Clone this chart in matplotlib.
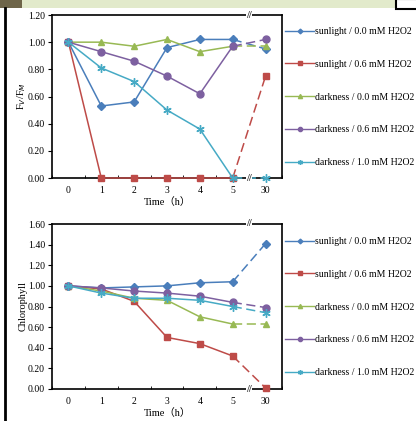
import matplotlib.pyplot as plt
from matplotlib.patches import Rectangle
from matplotlib.lines import Line2D

plt.rcParams['font.family'] = ['Liberation Serif', 'DejaVu Serif']

# Datos
tiempos = ['0', '1', '2', '3', '4', '5', '30']
series = ['sunlight / 0.0 mM H2O2', 'sunlight / 0.6 mM H2O2',
          'darkness / 0.0 mM H2O2', 'darkness / 0.6 mM H2O2',
          'darkness / 1.0 mM H2O2']

fvfm_sol_00 = [1.00, 0.53, 0.56, 0.96, 1.02, 1.02, 0.95]
fvfm_sol_06 = [1.00, 0.00, 0.00, 0.00, 0.00, 0.00, 0.75]
fvfm_osc_00 = [1.00, 1.00, 0.97, 1.02, 0.93, 0.97, 0.97]
fvfm_osc_06 = [1.00, 0.93, 0.86, 0.75, 0.62, 0.97, 1.02]
fvfm_osc_10 = [1.00, 0.81, 0.71, 0.50, 0.36, 0.00, 0.00]

clor_sol_00 = [1.00, 0.98, 0.99, 1.00, 1.03, 1.04, 1.41]
clor_sol_06 = [1.00, 0.97, 0.85, 0.50, 0.44, 0.32, 0.01]
clor_osc_00 = [1.00, 0.95, 0.88, 0.86, 0.70, 0.63, 0.63]
clor_osc_06 = [1.00, 0.98, 0.95, 0.93, 0.90, 0.84, 0.79]
clor_osc_10 = [1.00, 0.93, 0.88, 0.88, 0.86, 0.80, 0.74]

cores = ['#4a7ebb', '#be4b48', '#98b954', '#7d60a0', '#46aac5']
marcadores = ['D', 's', '^', 'o', (6, 2, 0)]
tamanhos = [4, 5, 5, 5, 6]

fig = plt.figure(figsize=(4.16, 4.21), dpi=100)

# moldura da captura
fig.patches.append(Rectangle((0, 1 - 8 / 421), 1, 8 / 421, transform=fig.transFigure,
                             facecolor='#e2eacb', edgecolor='none', zorder=0))
fig.patches.append(Rectangle((0, 1 - 8 / 421), 22 / 416, 8 / 421, transform=fig.transFigure,
                             facecolor='#6e6549', edgecolor='none', zorder=1))
fig.patches.append(Rectangle((396 / 416, 1 - 9 / 421), 22 / 416, 10 / 421, transform=fig.transFigure,
                             facecolor='white', edgecolor='black', lw=1.5, zorder=2))
fig.lines.append(Line2D([5 / 416, 5 / 416], [0, 1 - 8 / 421], transform=fig.transFigure,
                        color='black', lw=2))


def painel(ax, dados, ymax, ylabel, leg_y):
    x = list(range(len(tiempos)))
    handles = []
    for valores, cor, mk, ms, nome in zip(dados, cores, marcadores, tamanhos, series):
        ax.plot(x[:6], valores[:6], color=cor, lw=1.1, marker=mk, ms=ms,
                mec=cor, mew=1, clip_on=False, zorder=3)
        ax.plot(x[5:], valores[5:], color=cor, lw=1.1, ls=(0, (6, 3)),
                marker=mk, ms=ms, mec=cor, mew=1, markevery=[1], clip_on=False, zorder=3)
        handles.append(Line2D([], [], color=cor, lw=1, marker=mk, ms=ms * 0.6, mec=cor, label=nome))
    ax.set_xlim(-0.5, 6.5)
    ax.set_ylim(0, ymax)
    ax.set_xticks(x)
    ax.set_xticklabels(tiempos)
    ax.set_xticks([i + 0.5 for i in range(-1, 7)], minor=True)
    ax.tick_params(axis='x', which='major', length=0, labelsize=7, pad=6)
    ax.tick_params(axis='x', which='minor', length=2.5, direction='in')
    ax.set_yticks([i * 0.2 for i in range(int(round(ymax / 0.2)) + 1)])
    ax.set_yticklabels(['%.2f' % (i * 0.2) for i in range(int(round(ymax / 0.2)) + 1)])
    ax.tick_params(axis='y', length=3, labelsize=7, pad=2)
    for s in ax.spines.values():
        s.set_linewidth(1.2)
    ax.set_xlabel('Time（h）', fontsize=7.5, labelpad=1,
                  family=['Liberation Serif', 'Noto Sans CJK SC'])
    ax.set_ylabel(ylabel, fontsize=7.5, labelpad=0)
    # marca de quebra
    for yy in (0, 1):
        ax.text(5.5, yy, '//', transform=ax.get_xaxis_transform(), ha='center', va='center',
                fontsize=7.5, fontweight='bold', color='#333333', zorder=5, clip_on=False,
                bbox=dict(facecolor='white', edgecolor='none', pad=0))
    fig.legend(handles=handles, loc='upper left', bbox_to_anchor=(285 / 416, leg_y),
               frameon=False, fontsize=7, handlelength=3.0, handletextpad=0.05,
               labelspacing=2.45, borderaxespad=0, borderpad=0)


ax1 = fig.add_axes([52 / 416, 1 - 178 / 421, 230 / 416, 163 / 421])
painel(ax1, [fvfm_sol_00, fvfm_sol_06, fvfm_osc_00, fvfm_osc_06, fvfm_osc_10],
       1.2, r'F$_V$/F$_M$', 1 - 27 / 421)

ax2 = fig.add_axes([52 / 416, 1 - 389 / 421, 230 / 416, 165 / 421])
painel(ax2, [clor_sol_00, clor_sol_06, clor_osc_00, clor_osc_06, clor_osc_10],
       1.6, 'Chlorophyll', 1 - 237 / 421)

fig.savefig('out.png', dpi=100)
